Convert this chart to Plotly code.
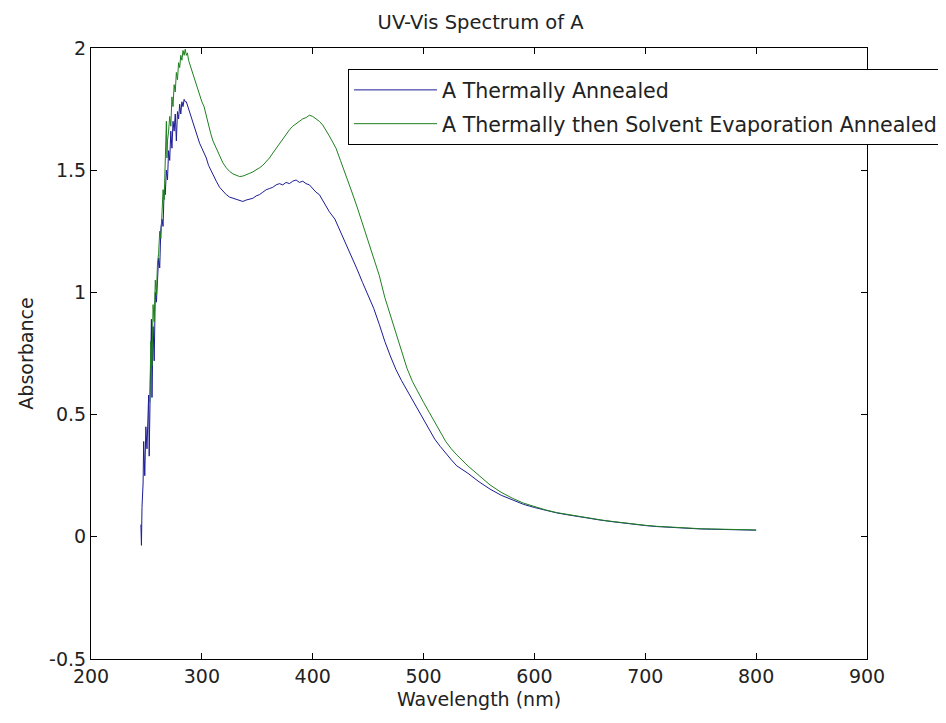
import plotly.graph_objects as go

# ---------------- data ----------------
wavelength_a = [245, 245.5, 246, 247, 247.5, 248.5, 249.5, 250.5, 252, 252.5, 253.5, 254.5, 255,
                256, 257, 258, 259, 260, 261, 262, 263, 264, 265, 266, 267, 268, 269, 270, 271,
                272, 273, 274, 275, 276, 277, 278, 279, 280, 281, 282, 283, 284, 285, 286, 288,
                290, 292, 294, 296, 298, 300, 302, 304, 306, 308, 310, 313, 316, 319, 322, 325,
                328, 331, 334, 337, 340, 343, 346, 349, 352, 355, 358, 361, 364, 367, 370, 373,
                376, 379, 382, 385, 388, 391, 394, 397, 400, 403, 406, 410, 415, 420, 425, 430,
                435, 440, 445, 450, 455, 460, 465, 470, 475, 480, 485, 490, 495, 500, 505, 510,
                515, 520, 525, 530, 540, 550, 560, 570, 580, 590, 600, 610, 620, 630, 640, 650,
                660, 670, 680, 690, 700, 710, 720, 730, 740, 750, 760, 770, 780, 790, 800]
absorbance_a = [0.05, -0.035, 0.12, 0.22, 0.39, 0.25, 0.45, 0.36, 0.58, 0.33, 0.62, 0.89, 0.57,
                0.86, 0.72, 1.00, 0.96, 1.08, 1.14, 1.10, 1.26, 1.30, 1.27, 1.42, 1.40, 1.50, 1.46, 1.58, 1.54,
                1.66, 1.59, 1.70, 1.66, 1.73, 1.62, 1.74, 1.71, 1.77, 1.73, 1.78, 1.76, 1.79, 1.78, 1.78, 1.75,
                1.72, 1.70, 1.67, 1.64, 1.61, 1.59, 1.57, 1.55, 1.52, 1.50, 1.48, 1.455, 1.43, 1.415, 1.40, 1.39,
                1.385, 1.38, 1.375, 1.372, 1.378, 1.38, 1.385, 1.395, 1.40, 1.41, 1.42, 1.425, 1.43, 1.44, 1.445, 1.44,
                1.45, 1.445, 1.455, 1.46, 1.45, 1.455, 1.445, 1.44, 1.425, 1.41, 1.40, 1.37, 1.33, 1.30, 1.25, 1.20,
                1.15, 1.095, 1.04, 0.99, 0.935, 0.87, 0.80, 0.74, 0.685, 0.64, 0.60, 0.56, 0.515, 0.475, 0.435, 0.40,
                0.37, 0.34, 0.315, 0.29, 0.26, 0.225, 0.195, 0.17, 0.15, 0.133, 0.12, 0.108, 0.098, 0.09, 0.082, 0.075,
                0.068, 0.062, 0.056, 0.05, 0.046, 0.042, 0.039, 0.036, 0.034, 0.032, 0.031, 0.03, 0.029, 0.028, 0.027]

wavelength_b = [253, 254, 255, 256, 257, 258, 259, 260, 261, 262, 263, 264, 265, 266, 267, 268, 268.5,
                269, 270, 271, 272, 273, 274, 275, 276, 277, 278, 279, 280, 281, 282, 283, 284, 285,
                286, 287, 288, 290, 292, 294, 296, 298, 300, 302, 304, 306, 308, 310, 313, 316, 319,
                322, 325, 328, 331, 334, 337, 340, 343, 346, 349, 352, 355, 358, 361, 364, 367, 370,
                373, 376, 379, 382, 385, 388, 391, 394, 397, 400, 403, 406, 409, 412, 415, 418, 421,
                425, 430, 435, 440, 445, 450, 455, 460, 465, 470, 475, 480, 485, 490, 495, 500, 505,
                510, 515, 520, 525, 530, 540, 550, 560, 570, 580, 590, 600, 610, 620, 630, 640, 650,
                660, 670, 680, 690, 700, 710, 720, 730, 740, 750, 760, 770, 780, 790, 800]
absorbance_b = [0.55, 0.80, 0.70, 0.95, 0.88, 1.05, 0.99, 1.12, 1.16, 1.25, 1.22, 1.33, 1.42, 1.38, 1.50, 1.70, 1.55,
                1.62, 1.66, 1.72, 1.68, 1.80, 1.76, 1.85, 1.82, 1.90, 1.87, 1.94, 1.92, 1.97, 1.95, 1.99, 1.97, 1.995,
                1.97, 1.98, 1.95, 1.92, 1.89, 1.86, 1.83, 1.80, 1.78, 1.76, 1.72, 1.69, 1.65, 1.62, 1.59, 1.56, 1.53,
                1.51, 1.495, 1.485, 1.478, 1.474, 1.476, 1.48, 1.487, 1.493, 1.50, 1.51, 1.52, 1.535, 1.55, 1.57, 1.59, 1.61,
                1.63, 1.65, 1.665, 1.68, 1.69, 1.70, 1.71, 1.715, 1.725, 1.72, 1.71, 1.70, 1.685, 1.665, 1.64, 1.615, 1.59,
                1.54, 1.48, 1.415, 1.35, 1.28, 1.21, 1.14, 1.07, 0.98, 0.91, 0.83, 0.76, 0.69, 0.635, 0.59, 0.55, 0.51,
                0.47, 0.43, 0.39, 0.36, 0.335, 0.29, 0.25, 0.212, 0.182, 0.158, 0.138, 0.123, 0.110, 0.099, 0.091, 0.083, 0.076,
                0.069, 0.063, 0.057, 0.051, 0.047, 0.043, 0.040, 0.037, 0.035, 0.033, 0.032, 0.031, 0.030, 0.029, 0.028]

series_names = ["A Thermally Annealed", "A Thermally then Solvent Evaporation Annealed"]
x_ticks = [200, 300, 400, 500, 600, 700, 800, 900]
y_ticks = [-0.5, 0, 0.5, 1, 1.5, 2]
y_tick_text = ["-0.5", "0", "0.5", "1", "1.5", "2"]

assert len(wavelength_a) == len(absorbance_a)
assert len(wavelength_b) == len(absorbance_b)

FONT = "DejaVu Sans, Arial, sans-serif"
W, H = 938, 715  # page body has an 8px margin

fig = go.Figure()
fig.add_trace(go.Scatter(x=wavelength_a, y=absorbance_a, mode="lines", name=series_names[0],
                         line=dict(color="#1c1c96", width=1), legendgroup="a"))
fig.add_trace(go.Scatter(x=wavelength_b, y=absorbance_b, mode="lines", name=series_names[1],
                         line=dict(color="#1f801f", width=1), legendgroup="b"))

axis_common = dict(showgrid=False, zeroline=False, showline=True, linecolor="black", linewidth=1,
                   mirror="ticks", ticks="inside", ticklen=6, tickcolor="black", tickwidth=1,
                   tickfont=dict(family=FONT, size=19, color="#222"))

fig.update_layout(
    width=W, height=H,
    paper_bgcolor="white", plot_bgcolor="white",
    margin=dict(l=83, r=79, t=40, b=64, autoexpand=False),
    title=dict(text="UV-Vis Spectrum of A", x=(479 - 8) / W, xanchor="center", y=1 - 14 / H, yanchor="middle",
               yref="container", xref="paper", font=dict(family=FONT, size=19.5, color="#222")),
    xaxis=dict(range=[200, 900], tickvals=x_ticks, ticktext=[str(v) for v in x_ticks],
               title=dict(text="Wavelength (nm)", font=dict(family=FONT, size=19, color="#222"), standoff=6),
               **axis_common),
    yaxis=dict(range=[-0.5, 2], tickvals=y_ticks, ticktext=y_tick_text,
               title=dict(text="Absorbance", font=dict(family=FONT, size=19, color="#222"), standoff=10),
               **axis_common),
    legend=dict(x=(348 - 91) / 776, y=(659 - 69) / 611, xanchor="left", yanchor="top",
                bgcolor="white", bordercolor="black", borderwidth=1,
                font=dict(family=FONT, size=20.6, color="#222"),
                itemwidth=83, tracegroupgap=4, traceorder="grouped"),
    showlegend=True,
)

fig.write_html("out.html")
